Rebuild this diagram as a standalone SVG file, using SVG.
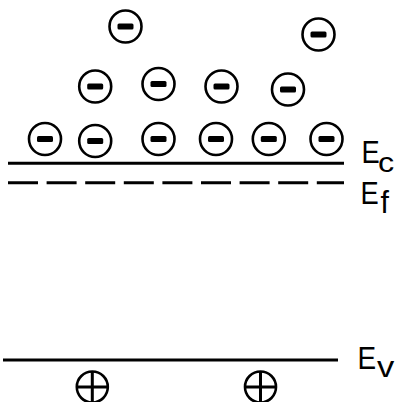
<svg xmlns="http://www.w3.org/2000/svg" width="399" height="402" viewBox="0 0 399 402">
<defs>
<style>
.ring{fill:#fff;stroke:#000;stroke-width:2.6}
.bar{fill:#000}
.lvl{stroke:#000;stroke-width:3;fill:none}
.lbl{font-family:"Liberation Sans",Arial,sans-serif;fill:#000}
.big{font-size:31px}
</style>
<g id="electron">
<circle class="ring" cx="0" cy="0" r="16"/>
<rect class="bar" x="-8" y="-3" width="16" height="6" rx="1.5"/>
</g>
<g id="hole">
<circle class="ring" cx="0" cy="0" r="15.5"/>
<path d="M-15.5 0H15.5M0 -15.5V15.5" stroke="#000" stroke-width="3"/>
</g>
</defs>
<rect width="399" height="402" fill="#fff"/>
<g id="connectors">
<line id="Ec-line" class="lvl" x1="8" y1="163.3" x2="344" y2="163.3"/>
<line id="Ef-line" class="lvl" x1="8" y1="182.7" x2="344" y2="182.7" stroke-dasharray="30 8.6"/>
<line id="Ev-line" class="lvl" x1="3" y1="360" x2="338" y2="360"/>
</g>
<g id="electrons">
<use href="#electron" x="125.5" y="26.5"/>
<use href="#electron" x="318.5" y="34.5"/>
<use href="#electron" x="95.2" y="86.5"/>
<use href="#electron" x="158.5" y="84"/>
<use href="#electron" x="221.5" y="86.5"/>
<use href="#electron" x="288" y="89.5"/>
<use href="#electron" x="45" y="139"/>
<use href="#electron" x="95.2" y="141"/>
<use href="#electron" x="158.5" y="139"/>
<use href="#electron" x="216" y="139"/>
<use href="#electron" x="268.8" y="139"/>
<use href="#electron" x="326.5" y="139"/>
</g>
<g id="holes">
<use href="#hole" x="92.3" y="387"/>
<use href="#hole" x="260.5" y="387"/>
</g>
<g id="labels">
<g id="Ec">
<text class="lbl big" transform="translate(361.5 163.3) scale(0.88 1)">E</text>
<text class="lbl" font-size="27" transform="translate(378 172) scale(1.2 1)">c</text>
</g>
<g id="Ef">
<text class="lbl big" transform="translate(360.5 204.3) scale(0.88 1)">E</text>
<text class="lbl" font-size="32" transform="translate(380.5 213) scale(0.95 1)">f</text>
</g>
<g id="Ev">
<text class="lbl big" transform="translate(357.5 369.3) scale(0.9 1)">E</text>
<text class="lbl" font-size="30" transform="translate(377 376.7) scale(1.15 1)">v</text>
</g>
</g>
</svg>
